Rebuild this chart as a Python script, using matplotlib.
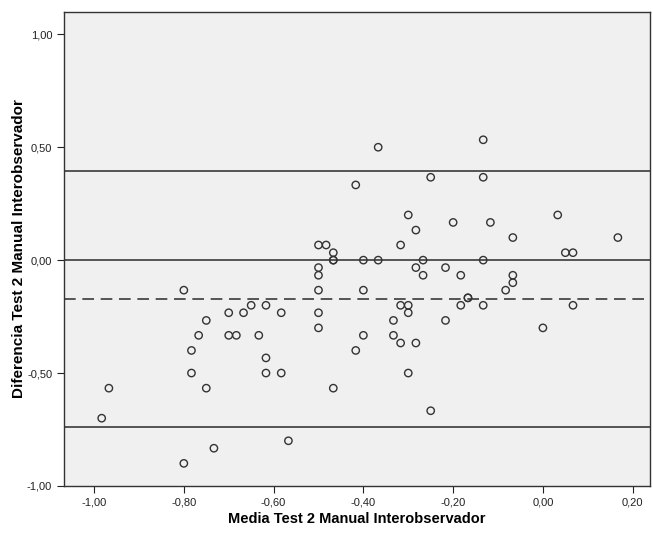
import matplotlib
matplotlib.use("Agg")
import matplotlib.pyplot as plt
from matplotlib.ticker import FuncFormatter

# media (x) y diferencia (y) de cada caso
media = [
    -0.983, -0.967, -0.80, -0.80, -0.783, -0.783, -0.767, -0.75, -0.75,
    -0.733, -0.70, -0.70, -0.683, -0.667, -0.65, -0.633, -0.617, -0.617, -0.617,
    -0.583, -0.583, -0.567, -0.50, -0.50, -0.50, -0.50, -0.50, -0.50, -0.483,
    -0.467, -0.467, -0.467, -0.467, -0.417, -0.417, -0.40, -0.40, -0.40, -0.367,
    -0.367, -0.333, -0.333, -0.317, -0.317, -0.317, -0.30, -0.30, -0.30, -0.30,
    -0.283, -0.283, -0.283, -0.267, -0.267, -0.25, -0.25, -0.217, -0.217, -0.20,
    -0.183, -0.183, -0.167, -0.167, -0.133, -0.133, -0.133, -0.133, -0.117, -0.083,
    -0.067, -0.067, -0.067, 0.0, 0.033, 0.05, 0.067, 0.067, 0.167,
]
diferencia = [
    -0.70, -0.567, -0.133, -0.90, -0.40, -0.50, -0.333, -0.267, -0.567,
    -0.833, -0.233, -0.333, -0.333, -0.233, -0.20, -0.333, -0.20, -0.433, -0.50,
    -0.233, -0.50, -0.80, 0.067, -0.033, -0.067, -0.133, -0.233, -0.30, 0.067,
    0.033, 0.0, 0.0, -0.567, 0.333, -0.40, 0.0, -0.133, -0.333, 0.50,
    0.0, -0.267, -0.333, 0.067, -0.20, -0.367, 0.20, -0.20, -0.233, -0.50,
    0.133, -0.033, -0.367, 0.0, -0.067, 0.367, -0.667, -0.033, -0.267, 0.167,
    -0.067, -0.20, -0.167, -0.167, 0.533, 0.367, 0.0, -0.20, 0.167, -0.133,
    0.10, -0.067, -0.10, -0.30, 0.20, 0.033, 0.033, -0.20, 0.10,
]

media_dif = -0.172
lim_sup = 0.393
lim_inf = -0.738

x_ticks = [-1.0, -0.8, -0.6, -0.4, -0.2, 0.0, 0.2]
y_ticks = [-1.0, -0.5, 0.0, 0.5, 1.0]

plt.rcParams["font.family"] = ["Liberation Sans", "DejaVu Sans"]

fig = plt.figure(figsize=(6.53, 5.34), dpi=100)
ax = fig.add_axes([0.098, 0.09, 0.897, 0.888])
ax.set_facecolor("#f0f0f0")

line_col = "#3a3a3a"
for v in (lim_sup, 0.0, lim_inf):
    ax.axhline(v, color=line_col, linewidth=1.2, zorder=1)
ax.axhline(media_dif, color=line_col, linewidth=1.2, linestyle=(0, (7, 4)), zorder=1)

ax.scatter(media, diferencia, s=28, facecolors="none", edgecolors="#333333",
           linewidths=1.0, zorder=3)

ax.set_xlim(-1.067, 0.238)
ax.set_ylim(-1.0, 1.10)
ax.set_xticks(x_ticks)
ax.set_yticks(y_ticks)
fmt = FuncFormatter(lambda v, p: f"{v:.2f}".replace(".", ","))
ax.xaxis.set_major_formatter(fmt)
ax.yaxis.set_major_formatter(fmt)
ax.tick_params(direction="out", length=5, width=0.8, labelsize=8, colors="#222222",
               top=False, right=False)

for s in ax.spines.values():
    s.set_color("#333333")
    s.set_linewidth(1.0)

ax.set_xlabel("Media Test 2 Manual Interobservador", fontsize=10.5,
              fontweight="bold", labelpad=3)
ax.set_ylabel("Diferencia Test 2 Manual Interobservador", fontsize=11,
              fontweight="bold", labelpad=1)

fig.savefig("out.png", dpi=100)
plt.close(fig)
